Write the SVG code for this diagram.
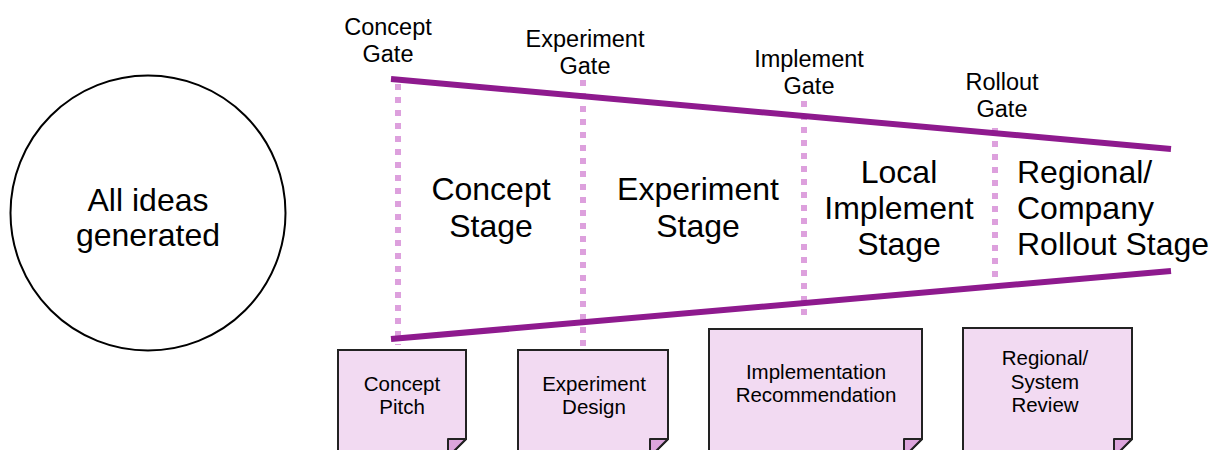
<svg xmlns="http://www.w3.org/2000/svg" width="1213" height="450" viewBox="0 0 1213 450">
<style>
text{font-family:"Liberation Sans",Arial,sans-serif;fill:#000;text-anchor:middle}
.big{font-size:32px}
.gate{font-size:23.5px}
.doc{font-size:20.5px}
.dots{stroke:#dda0dd;stroke-width:6;stroke-dasharray:6 7;fill:none}
.bar{stroke:#8e1a8e;stroke-width:6;stroke-linecap:butt;fill:none}
.page{fill:#f2daf2;stroke:#222;stroke-width:2}
.fold{fill:#dca5dc;stroke:#222;stroke-width:2;stroke-linejoin:round}
</style>
<rect width="1213" height="450" fill="#fff"/>
<g id="ideas">
<circle cx="148" cy="213" r="137.5" fill="#fff" stroke="#000" stroke-width="2"/>
<text class="big" x="148" y="211">All ideas</text>
<text class="big" x="148" y="246">generated</text>
</g>
<g id="connectors">
<line class="dots" x1="398" y1="84" x2="398" y2="345"/>
<line class="dots" x1="583" y1="80" x2="583" y2="348"/>
<line class="dots" x1="804" y1="101" x2="804" y2="322"/>
<line class="dots" x1="995" y1="128" x2="995" y2="287"/>
<line class="bar" x1="391" y1="79" x2="1171" y2="149"/>
<line class="bar" x1="391" y1="339" x2="1171" y2="271"/>
</g>
<g id="gate-labels">
<text class="gate" x="388" y="35">Concept</text>
<text class="gate" x="388" y="62">Gate</text>
<text class="gate" x="585" y="47">Experiment</text>
<text class="gate" x="585" y="74">Gate</text>
<text class="gate" x="809" y="67">Implement</text>
<text class="gate" x="809" y="94">Gate</text>
<text class="gate" x="1002" y="90">Rollout</text>
<text class="gate" x="1002" y="117">Gate</text>
</g>
<g id="concept-stage">
<text class="big" x="491" y="200">Concept</text>
<text class="big" x="491" y="237">Stage</text>
</g>
<g id="experiment-stage">
<text class="big" x="698" y="200">Experiment</text>
<text class="big" x="698" y="237">Stage</text>
</g>
<g id="local-stage">
<text class="big" x="899" y="183">Local</text>
<text class="big" x="899" y="219">Implement</text>
<text class="big" x="899" y="255">Stage</text>
</g>
<g id="rollout-stage">
<text class="big" x="1017" y="183" style="text-anchor:start">Regional/</text>
<text class="big" x="1017" y="219" style="text-anchor:start">Company</text>
<text class="big" x="1017" y="255" style="text-anchor:start">Rollout Stage</text>
</g>
<g id="doc-concept-pitch">
<path class="page" d="M338,350 H466 V439 L448,457 H338 Z"/>
<path class="fold" d="M448,439 H466 L448,457 Z"/>
<text class="doc" x="402" y="391">Concept</text>
<text class="doc" x="402" y="414">Pitch</text>
</g>
<g id="doc-experiment-design">
<path class="page" d="M518,350 H668 V439 L650,457 H518 Z"/>
<path class="fold" d="M650,439 H668 L650,457 Z"/>
<text class="doc" x="594" y="391">Experiment</text>
<text class="doc" x="594" y="414">Design</text>
</g>
<g id="doc-implementation">
<path class="page" d="M709,329 H922 V439 L904,457 H709 Z"/>
<path class="fold" d="M904,439 H922 L904,457 Z"/>
<text class="doc" x="816" y="379">Implementation</text>
<text class="doc" x="816" y="402">Recommendation</text>
</g>
<g id="doc-regional-review">
<path class="page" d="M963,328 H1132 V439 L1114,457 H963 Z"/>
<path class="fold" d="M1114,439 H1132 L1114,457 Z"/>
<text class="doc" x="1045" y="365">Regional/</text>
<text class="doc" x="1045" y="389">System</text>
<text class="doc" x="1045" y="412">Review</text>
</g>
</svg>
